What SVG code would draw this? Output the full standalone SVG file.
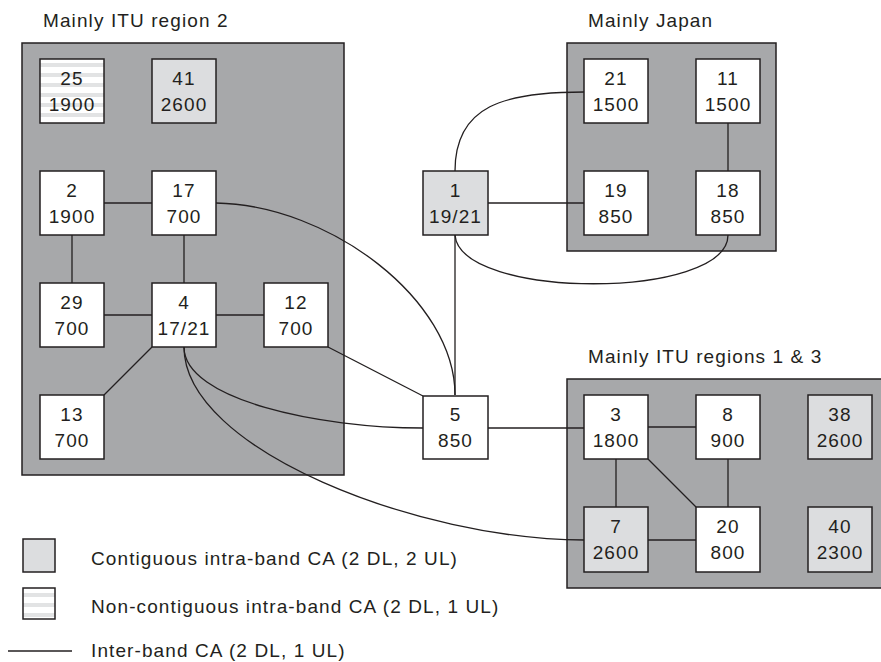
<svg xmlns="http://www.w3.org/2000/svg" width="881" height="662" viewBox="0 0 881 662">
  <style>
    .region { fill: #a7a8aa; stroke: #231f20; stroke-width: 1.5; }
    .node rect { stroke: #231f20; stroke-width: 1.5; }
    .plain { fill: #ffffff; }
    .contig { fill: #dcdddf; }
    .noncontig { fill: url(#stripes); }
    text { font-family: "Liberation Sans", Arial, sans-serif; font-size: 19px; letter-spacing: 1.1px; fill: #231f20; }
    .node text { text-anchor: middle; }
    .link { fill: none; stroke: #231f20; stroke-width: 1.3; }
  </style>
  <defs>
    <pattern id="stripes" patternUnits="userSpaceOnUse" x="0" y="0" width="10" height="10">
      <rect width="10" height="10" fill="#ffffff"/>
      <rect y="3" width="10" height="4" fill="#e2e3e4"/>
    </pattern>
  </defs>

  <rect width="881" height="662" fill="#ffffff"/>

  <!-- region backgrounds -->
  <g id="regions">
    <rect class="region" x="22" y="43" width="322" height="432"/>
    <rect class="region" x="567" y="43" width="209" height="208"/>
    <rect class="region" x="567" y="379" width="330" height="209"/>
    <text x="43" y="27">Mainly ITU region 2</text>
    <text x="588" y="27">Mainly Japan</text>
    <text x="588" y="363">Mainly ITU regions 1 &amp; 3</text>
  </g>

  <!-- connectors -->
  <g id="connectors">
    <line class="link" x1="104" y1="203" x2="152" y2="203"/>
    <line class="link" x1="72" y1="235" x2="72" y2="283"/>
    <line class="link" x1="184" y1="235" x2="184" y2="283"/>
    <line class="link" x1="104" y1="315" x2="152" y2="315"/>
    <line class="link" x1="216" y1="315" x2="264" y2="315"/>
    <line class="link" x1="152" y1="347" x2="104" y2="395"/>
    <line class="link" x1="328" y1="347" x2="423" y2="396"/>
    <path class="link" d="M216,203 C330,205 455,300 455,395"/>
    <line class="link" x1="455" y1="235" x2="455" y2="395"/>
    <path class="link" d="M184,347 C184,400 320,428 423,428"/>
    <path class="link" d="M184,347 C184,450 420,540 584,540"/>
    <line class="link" x1="488" y1="428" x2="584" y2="428"/>
    <line class="link" x1="648" y1="427" x2="696" y2="427"/>
    <line class="link" x1="616" y1="459" x2="616" y2="507"/>
    <line class="link" x1="648" y1="459" x2="696" y2="507"/>
    <line class="link" x1="728" y1="459" x2="728" y2="507"/>
    <line class="link" x1="648" y1="540" x2="696" y2="540"/>
    <path class="link" d="M455,171 C455,105 505,92 584,92"/>
    <line class="link" x1="488" y1="203" x2="584" y2="203"/>
    <line class="link" x1="728" y1="123" x2="728" y2="171"/>
    <path class="link" d="M455,235 C460,300 728,300 728,235"/>
  </g>

  <!-- region 2 bands -->
  <g id="n25" class="node"><rect class="noncontig" x="40" y="59" width="64" height="64"/><text x="72" y="85">25</text><text x="72" y="111">1900</text></g>
  <g id="n41" class="node"><rect class="contig" x="152" y="59" width="64" height="64"/><text x="184" y="85">41</text><text x="184" y="111">2600</text></g>
  <g id="n2" class="node"><rect class="plain" x="40" y="171" width="64" height="64"/><text x="72" y="197">2</text><text x="72" y="223">1900</text></g>
  <g id="n17" class="node"><rect class="plain" x="152" y="171" width="64" height="64"/><text x="184" y="197">17</text><text x="184" y="223">700</text></g>
  <g id="n29" class="node"><rect class="plain" x="40" y="283" width="64" height="64"/><text x="72" y="309">29</text><text x="72" y="335">700</text></g>
  <g id="n4" class="node"><rect class="plain" x="152" y="283" width="64" height="64"/><text x="184" y="309">4</text><text x="184" y="335">17/21</text></g>
  <g id="n12" class="node"><rect class="plain" x="264" y="283" width="64" height="64"/><text x="296" y="309">12</text><text x="296" y="335">700</text></g>
  <g id="n13" class="node"><rect class="plain" x="40" y="395" width="64" height="64"/><text x="72" y="421">13</text><text x="72" y="447">700</text></g>

  <!-- bands between regions -->
  <g id="n1" class="node"><rect class="contig" x="423" y="171" width="65" height="64"/><text x="455.5" y="197">1</text><text x="455.5" y="223">19/21</text></g>
  <g id="n5" class="node"><rect class="plain" x="423" y="396" width="65" height="63"/><text x="455.5" y="421">5</text><text x="455.5" y="447">850</text></g>

  <!-- Japan bands -->
  <g id="n21" class="node"><rect class="plain" x="584" y="59" width="64" height="64"/><text x="616" y="85">21</text><text x="616" y="111">1500</text></g>
  <g id="n11" class="node"><rect class="plain" x="696" y="59" width="64" height="64"/><text x="728" y="85">11</text><text x="728" y="111">1500</text></g>
  <g id="n19" class="node"><rect class="plain" x="584" y="171" width="64" height="64"/><text x="616" y="197">19</text><text x="616" y="223">850</text></g>
  <g id="n18" class="node"><rect class="plain" x="696" y="171" width="64" height="64"/><text x="728" y="197">18</text><text x="728" y="223">850</text></g>

  <!-- regions 1 & 3 bands -->
  <g id="n3" class="node"><rect class="plain" x="584" y="395" width="64" height="64"/><text x="616" y="421">3</text><text x="616" y="447">1800</text></g>
  <g id="n8" class="node"><rect class="plain" x="696" y="395" width="64" height="64"/><text x="728" y="421">8</text><text x="728" y="447">900</text></g>
  <g id="n38" class="node"><rect class="contig" x="808" y="395" width="64" height="64"/><text x="840" y="421">38</text><text x="840" y="447">2600</text></g>
  <g id="n7" class="node"><rect class="contig" x="584" y="507" width="64" height="65"/><text x="616" y="533">7</text><text x="616" y="559">2600</text></g>
  <g id="n20" class="node"><rect class="plain" x="696" y="507" width="64" height="65"/><text x="728" y="533">20</text><text x="728" y="559">800</text></g>
  <g id="n40" class="node"><rect class="contig" x="808" y="507" width="64" height="65"/><text x="840" y="533">40</text><text x="840" y="559">2300</text></g>

  <!-- legend -->
  <g id="legend">
    <g class="node"><rect class="contig" x="23" y="539" width="32" height="33"/></g>
    <text x="91" y="565">Contiguous intra-band CA (2 DL, 2 UL)</text>
    <g class="node"><rect class="noncontig" x="23" y="588" width="32" height="31"/></g>
    <text x="91" y="613">Non-contiguous intra-band CA (2 DL, 1 UL)</text>
    <line class="link" x1="8" y1="651" x2="72" y2="651"/>
    <text x="91" y="657">Inter-band CA (2 DL, 1 UL)</text>
  </g>
</svg>
